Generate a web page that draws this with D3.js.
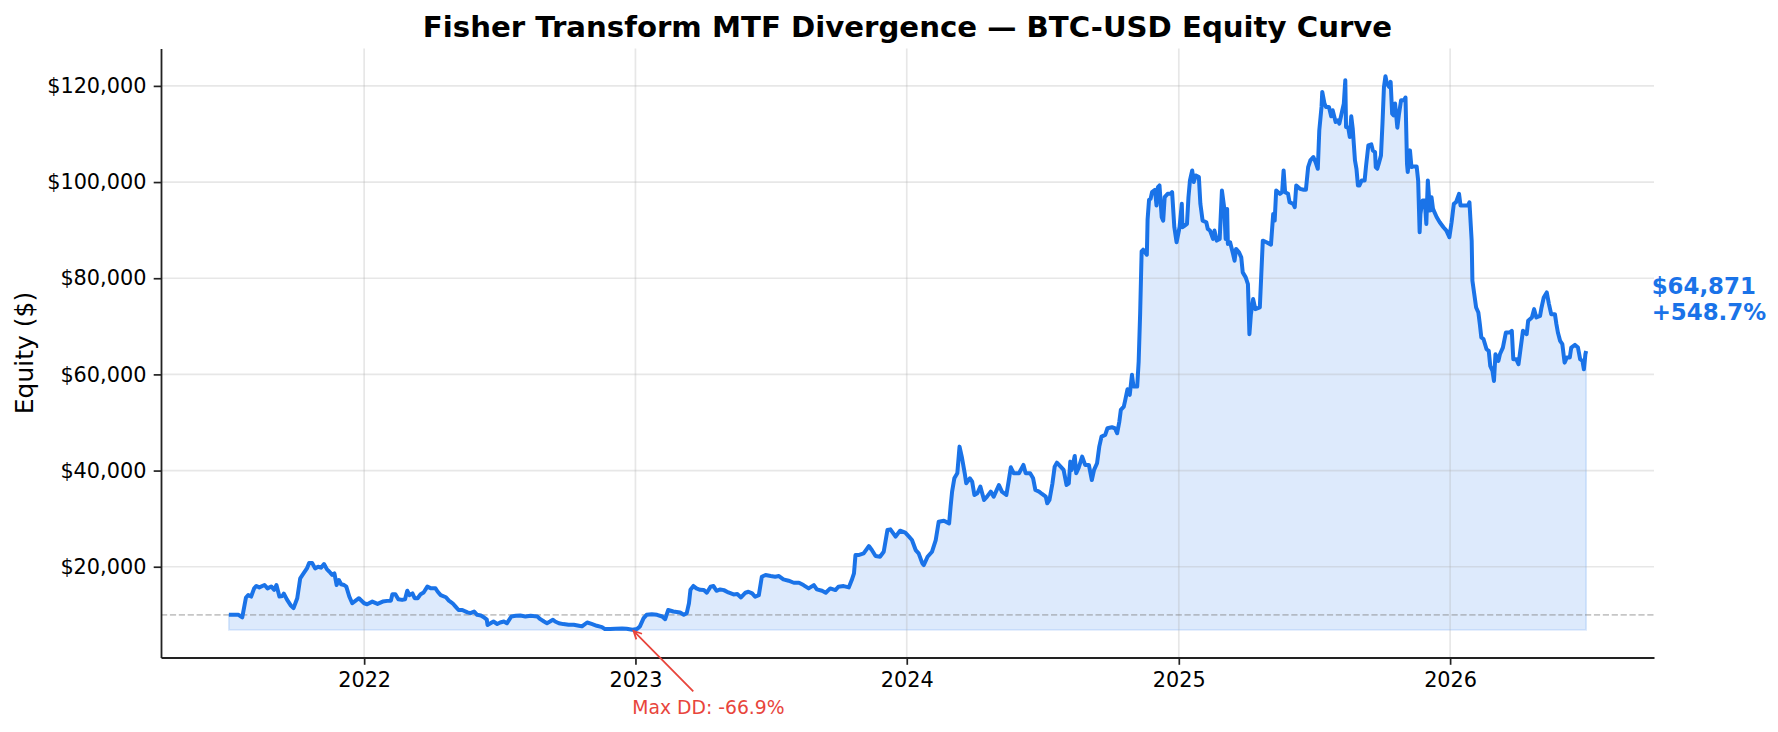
<!DOCTYPE html>
<html>
<head>
<meta charset="utf-8">
<title>Fisher Transform MTF Divergence — BTC-USD Equity Curve</title>
<script src="https://cdnjs.cloudflare.com/ajax/libs/d3/7.8.5/d3.min.js"></script>
<style>
  html, body { margin: 0; padding: 0; background: #fff; }
  svg { display: block; font-family: "DejaVu Sans", "Liberation Sans", sans-serif; }
</style>
</head>
<body>
<svg id="chart" width="1778" height="732"></svg>
<script>
'use strict';

// equity curve (date, account value in $)
var dates = [
  '2021-07-03','2021-07-16','2021-07-21','2021-07-26','2021-07-29','2021-08-02','2021-08-06','2021-08-09','2021-08-13','2021-08-20',
  '2021-08-24','2021-08-29','2021-09-02','2021-09-05','2021-09-09','2021-09-13','2021-09-15','2021-09-19','2021-09-24','2021-09-28',
  '2021-10-03','2021-10-07','2021-10-11','2021-10-16','2021-10-19','2021-10-23','2021-10-27','2021-10-31','2021-11-04','2021-11-08',
  '2021-11-12','2021-11-15','2021-11-19','2021-11-22','2021-11-25','2021-11-28','2021-12-01','2021-12-05','2021-12-08','2021-12-12',
  '2021-12-16','2021-12-21','2021-12-25',
  '2022-01-01','2022-01-05','2022-01-12','2022-01-19','2022-01-26','2022-02-01','2022-02-06','2022-02-08','2022-02-12','2022-02-16',
  '2022-02-21','2022-02-25','2022-02-28','2022-03-03','2022-03-07','2022-03-10','2022-03-14','2022-03-18','2022-03-22','2022-03-27',
  '2022-04-01','2022-04-07','2022-04-10','2022-04-14','2022-04-21','2022-04-25','2022-04-30','2022-05-04','2022-05-08','2022-05-13',
  '2022-05-20','2022-05-24','2022-05-29','2022-06-02','2022-06-07','2022-06-11','2022-06-15','2022-06-16','2022-06-20','2022-06-24',
  '2022-06-29','2022-07-03','2022-07-08','2022-07-12','2022-07-18','2022-07-24','2022-07-30','2022-08-06','2022-08-13','2022-08-22',
  '2022-08-26','2022-08-31','2022-09-04','2022-09-08','2022-09-12','2022-09-15','2022-09-20','2022-09-26','2022-10-03','2022-10-10',
  '2022-10-17','2022-10-21','2022-10-28','2022-11-03','2022-11-10','2022-11-17','2022-11-21','2022-11-28','2022-12-05','2022-12-14',
  '2022-12-20','2022-12-28',
  '2023-01-03','2023-01-07','2023-01-12','2023-01-16','2023-01-23','2023-01-30','2023-02-06','2023-02-10','2023-02-14','2023-02-21',
  '2023-03-02','2023-03-07','2023-03-11','2023-03-14','2023-03-16','2023-03-20','2023-03-24','2023-03-29','2023-04-03','2023-04-07',
  '2023-04-12','2023-04-16','2023-04-20','2023-04-25','2023-04-30','2023-05-06','2023-05-13','2023-05-18','2023-05-23','2023-05-29',
  '2023-06-02','2023-06-07','2023-06-11','2023-06-16','2023-06-20','2023-06-25','2023-07-02','2023-07-08','2023-07-13','2023-07-19',
  '2023-07-26','2023-08-02','2023-08-09','2023-08-15','2023-08-22','2023-08-29','2023-09-02','2023-09-09','2023-09-14','2023-09-20',
  '2023-09-27','2023-10-01','2023-10-08','2023-10-15','2023-10-19','2023-10-22','2023-10-24','2023-10-28','2023-11-04','2023-11-11',
  '2023-11-15','2023-11-20','2023-11-26','2023-12-01','2023-12-06','2023-12-10','2023-12-17','2023-12-23','2023-12-30',
  '2024-01-04','2024-01-08','2024-01-13','2024-01-17','2024-01-22','2024-01-24','2024-01-29','2024-02-04','2024-02-09','2024-02-13',
  '2024-02-20','2024-02-27','2024-02-29','2024-03-02','2024-03-05','2024-03-09','2024-03-12','2024-03-15','2024-03-19','2024-03-21',
  '2024-03-26','2024-03-29','2024-04-01','2024-04-05','2024-04-09','2024-04-14','2024-04-18','2024-04-23','2024-04-27','2024-05-04',
  '2024-05-08','2024-05-14','2024-05-17','2024-05-20','2024-05-24','2024-05-31','2024-06-06','2024-06-09','2024-06-15','2024-06-19',
  '2024-06-22','2024-06-27','2024-07-01','2024-07-06','2024-07-08','2024-07-11','2024-07-15','2024-07-18','2024-07-21','2024-07-26',
  '2024-07-30','2024-08-03','2024-08-06','2024-08-08','2024-08-10','2024-08-14','2024-08-16','2024-08-19','2024-08-24','2024-08-28',
  '2024-09-02','2024-09-06','2024-09-09','2024-09-13','2024-09-16','2024-09-19','2024-09-24','2024-09-27','2024-10-03','2024-10-07',
  '2024-10-10','2024-10-13','2024-10-15','2024-10-19','2024-10-21','2024-10-24','2024-10-27','2024-10-30','2024-11-01','2024-11-06',
  '2024-11-08','2024-11-10','2024-11-12','2024-11-14','2024-11-19','2024-11-20','2024-11-22','2024-11-24','2024-11-26','2024-11-30',
  '2024-12-02','2024-12-04','2024-12-06','2024-12-09','2024-12-11','2024-12-13','2024-12-17','2024-12-21','2024-12-23','2024-12-26',
  '2024-12-29',
  '2025-01-02','2025-01-05','2025-01-06','2025-01-09','2025-01-12','2025-01-14','2025-01-16','2025-01-19','2025-01-21','2025-01-24',
  '2025-01-28','2025-01-30','2025-02-02','2025-02-07','2025-02-09','2025-02-12','2025-02-16','2025-02-18','2025-02-21','2025-02-25',
  '2025-02-28','2025-03-03','2025-03-05','2025-03-07','2025-03-08','2025-03-11','2025-03-15','2025-03-17','2025-03-19','2025-03-23',
  '2025-03-26','2025-03-28','2025-04-01','2025-04-04','2025-04-06','2025-04-08','2025-04-11','2025-04-14','2025-04-20','2025-04-22',
  '2025-04-24','2025-04-29','2025-05-05','2025-05-08','2025-05-10','2025-05-12','2025-05-17','2025-05-20','2025-05-22','2025-05-24',
  '2025-05-28','2025-05-30','2025-06-04','2025-06-06','2025-06-08','2025-06-13','2025-06-18','2025-06-21','2025-06-24','2025-06-27',
  '2025-07-01','2025-07-04','2025-07-07','2025-07-09','2025-07-12','2025-07-13','2025-07-16','2025-07-18','2025-07-22','2025-07-25',
  '2025-07-27','2025-07-31','2025-08-03','2025-08-05','2025-08-09','2025-08-11','2025-08-13','2025-08-14','2025-08-17','2025-08-19',
  '2025-08-21','2025-08-23','2025-08-26','2025-08-28','2025-08-30','2025-09-01','2025-09-04','2025-09-08','2025-09-10','2025-09-13',
  '2025-09-17','2025-09-19','2025-09-22','2025-09-23','2025-09-25','2025-09-27','2025-09-30','2025-10-02','2025-10-04','2025-10-06',
  '2025-10-08','2025-10-11','2025-10-13','2025-10-15','2025-10-17','2025-10-19','2025-10-22','2025-10-24','2025-10-27','2025-10-31',
  '2025-11-02','2025-11-04','2025-11-05','2025-11-08','2025-11-10','2025-11-12','2025-11-17','2025-11-19','2025-11-21','2025-11-22',
  '2025-11-25','2025-11-28','2025-11-30','2025-12-02','2025-12-05','2025-12-07','2025-12-09','2025-12-14','2025-12-18','2025-12-23',
  '2025-12-27','2025-12-31',
  '2026-01-03','2026-01-06','2026-01-09','2026-01-13','2026-01-15','2026-01-21','2026-01-25','2026-01-27','2026-01-30','2026-01-31',
  '2026-02-05','2026-02-08','2026-02-10','2026-02-12','2026-02-15','2026-02-19','2026-02-22','2026-02-24','2026-02-27','2026-03-01',
  '2026-03-03','2026-03-07','2026-03-09','2026-03-13','2026-03-17','2026-03-22','2026-03-25','2026-03-27','2026-03-31','2026-04-03',
  '2026-04-06','2026-04-09','2026-04-14','2026-04-16','2026-04-21','2026-04-24','2026-04-27','2026-05-02','2026-05-04','2026-05-07',
  '2026-05-11','2026-05-14','2026-05-17','2026-05-22','2026-05-24','2026-05-26','2026-05-29','2026-06-01','2026-06-04','2026-06-07',
  '2026-06-11','2026-06-13','2026-06-18','2026-06-22','2026-06-25','2026-06-28','2026-06-30','2026-07-02','2026-07-03'
];

var equity = [
  10000,10000,9450,13600,14100,13800,15500,16000,15700,16200,
  15500,15900,15200,16200,13800,13900,14400,13200,12000,11400,
  13450,17600,18500,19650,20800,20800,19650,20000,19800,20550,
  19450,19000,18300,18600,16200,17250,16350,16200,15860,13800,
  12400,13000,13450,
  12400,12200,12750,12270,12750,12900,12950,14300,14300,13250,
  13100,13250,15000,14100,14450,13450,13450,14300,14650,15860,
  15500,15500,14800,14100,13650,12950,12400,11700,11000,11000,
  10500,10340,10690,10000,9860,9500,9000,7900,8240,8600,
  8100,8400,8600,8240,9650,9790,9860,9650,9790,9650,
  9100,8600,8250,8600,8970,8600,8250,8070,7930,7930,
  7720,7600,8400,8100,7720,7450,7030,7030,7100,7170,
  7100,6880,
  7030,7590,9310,10000,10140,10000,9650,9100,11000,10690,
  10480,10000,10340,12400,15200,16000,15500,15200,15140,14590,
  15840,15980,15000,15280,15140,14660,14240,14310,13610,14590,
  14800,14450,13750,14100,17920,18270,18060,17920,18060,17360,
  17090,16670,16670,16180,15490,16180,15280,15000,14590,15490,
  15140,15840,15980,15700,17220,18610,22430,22430,22780,24300,
  23470,22220,22080,23120,27630,27770,26250,27500,27080,
  26250,25550,23470,22780,20690,20350,22080,23120,25550,29370,
  29580,29020,32490,35620,38390,39430,44980,42900,39430,37350,
  38390,37700,34920,35270,36660,33880,34570,35620,34570,37000,
  35620,34920,37700,40680,39430,39430,41170,39430,39430,38390,
  35960,35620,35130,34570,33190,33880,37350,40820,41650,40820,
  40130,37000,37350,41860,40130,43040,39430,40470,42900,41170,
  41170,38040,40130,41510,44980,47070,47410,48800,49010,48800,
  47760,50190,52620,53310,54700,56920,55740,59910,57480,57480,
  62680,72740,85580,85930,84890,92180,96340,96510,97900,98390,
  95120,98940,99290,92690,91990,96860,97550,97550,97900,90600,
  87480,
  90600,95470,90600,90950,91300,96860,100330,102420,99990,101370,
  101030,95470,91990,91640,90250,89910,88170,89910,87820,88170,
  98250,94770,88170,94420,87130,87480,85040,83650,86090,85390,
  84350,81220,80180,78790,68360,72530,75660,73570,73920,80870,
  87820,87480,86990,93380,91990,98250,97550,97900,102420,97900,
  97550,95810,95470,94770,99290,98590,98390,98390,103110,104500,
  105200,104150,102760,110760,115620,118750,116320,115620,115620,113680,
  114930,112490,112840,112150,114930,116320,121180,111450,111310,109370,
  113680,111100,104500,102760,99290,99290,100330,100330,103460,107630,
  107840,106590,106240,103110,102760,103810,105550,112150,119790,122020,
  120490,119790,120830,114230,113880,116320,111310,113880,117010,117010,
  117570,103810,102070,106590,103110,103250,103250,100330,89560,93380,
  96160,96160,91300,100330,94080,96860,94420,92690,91640,90600,
  89910,88520,
  91640,95470,95810,97550,95120,95120,95120,95810,87820,79480,
  73920,72880,70450,67670,67320,65230,64880,61760,60720,58630,
  64190,62800,64190,65580,68710,68710,69060,63150,63150,62110,
  65580,69060,68360,71140,71840,73570,71840,72180,73920,76010,
  77050,74620,72530,72530,70450,68710,66970,66280,62450,63500,
  63500,65580,66140,65580,63150,62800,61060,64200,64871
];

var startingEquity = 10000;
var yTickValues = [20000, 40000, 60000, 80000, 100000, 120000];
var xTickYears = [2022, 2023, 2024, 2025, 2026];

var titleText = 'Fisher Transform MTF Divergence — BTC-USD Equity Curve';
var yLabelText = 'Equity ($)';
var drawdownText = 'Max DD: -66.9%';
var finalValueText = '$64,871';
var finalReturnText = '+548.7%';

var lineColor = '#1a73e8';
var ddColor = '#e8453c';

if (dates.length !== equity.length) {
  console.log('dates / equity length mismatch', dates.length, equity.length);
}

var width = 1778,
    height = 732,
    margin = {top: 48.5, right: 124, bottom: 74.5, left: 161};

var parseDate = d3.timeParse('%Y-%m-%d');
var data = dates.map(function(d, i) {
  return {date: parseDate(d), value: equity[i]};
});

// matplotlib style 5% padding around the data
var xExtent = d3.extent(data, function(d) { return d.date; });
var xSpan = xExtent[1] - xExtent[0];
var x = d3.scaleTime()
    .domain([new Date(+xExtent[0] - xSpan * 0.05), new Date(+xExtent[1] + xSpan * 0.05)])
    .range([margin.left, width - margin.right]);

var minEq = d3.min(equity),
    maxEq = d3.max(equity),
    yPad = (maxEq - minEq) * 0.05;
var y = d3.scaleLinear()
    .domain([minEq - yPad, maxEq + yPad])
    .range([height - margin.bottom, margin.top]);

var svg = d3.select('#chart');

// fill down to the lowest equity
var area = d3.area()
    .x(function(d) { return x(d.date); })
    .y0(y(minEq))
    .y1(function(d) { return y(d.value); });

svg.append('path')
  .datum(data)
  .attr('d', area)
  .attr('fill', lineColor)
  .attr('fill-opacity', 0.15)
  .attr('stroke', lineColor)
  .attr('stroke-opacity', 0.15)
  .attr('stroke-width', 1.7);

// grid
var grid = svg.append('g').attr('class', 'grid');
grid.selectAll('line.gy')
  .data(yTickValues)
  .enter().append('line')
  .attr('x1', margin.left).attr('x2', width - margin.right)
  .attr('y1', function(d) { return y(d); }).attr('y2', function(d) { return y(d); });
grid.selectAll('line.gx')
  .data(xTickYears)
  .enter().append('line')
  .attr('y1', margin.top).attr('y2', height - margin.bottom)
  .attr('x1', function(d) { return x(new Date(d, 0, 1)); })
  .attr('x2', function(d) { return x(new Date(d, 0, 1)); });
grid.selectAll('line')
  .attr('stroke', '#b0b0b0')
  .attr('stroke-opacity', 0.3)
  .attr('stroke-width', 1.7);

// starting capital reference
svg.append('line')
  .attr('x1', margin.left).attr('x2', width - margin.right)
  .attr('y1', y(startingEquity)).attr('y2', y(startingEquity))
  .attr('stroke', '#808080')
  .attr('stroke-opacity', 0.45)
  .attr('stroke-width', 1.7)
  .attr('stroke-dasharray', '6.2,2.7');

var line = d3.line()
    .x(function(d) { return x(d.date); })
    .y(function(d) { return y(d.value); });

svg.append('path')
  .datum(data)
  .attr('d', line)
  .attr('fill', 'none')
  .attr('stroke', lineColor)
  .attr('stroke-width', 4)
  .attr('stroke-linejoin', 'round');

// axes
var yAxis = d3.axisLeft(y)
    .tickValues(yTickValues)
    .tickFormat(d3.format('$,.0f'))
    .tickSizeInner(7.3)
    .tickSizeOuter(0)
    .tickPadding(7.3);

var xAxis = d3.axisBottom(x)
    .tickValues(xTickYears.map(function(yr) { return new Date(yr, 0, 1); }))
    .tickFormat(d3.timeFormat('%Y'))
    .tickSizeInner(7.3)
    .tickSizeOuter(0)
    .tickPadding(7.3);

var gy = svg.append('g')
  .attr('transform', 'translate(' + margin.left + ',0)')
  .call(yAxis);
var gx = svg.append('g')
  .attr('transform', 'translate(0,' + (height - margin.bottom) + ')')
  .call(xAxis);

[gx, gy].forEach(function(g) {
  g.select('.domain').attr('stroke', '#222').attr('stroke-width', 1.8);
  g.selectAll('.tick line').attr('stroke', '#222').attr('stroke-width', 1.7);
  g.selectAll('.tick text')
    .attr('fill', '#000')
    .style('font-family', '"DejaVu Sans", sans-serif')
    .style('font-size', '20.8px');
});

// title + axis label
svg.append('text')
  .attr('x', (margin.left + width - margin.right) / 2)
  .attr('y', 36.5)
  .attr('text-anchor', 'middle')
  .style('font-size', '29.2px')
  .style('font-weight', 'bold')
  .attr('fill', '#000')
  .text(titleText);

svg.append('text')
  .attr('transform', 'translate(33,' + ((margin.top + height - margin.bottom) / 2) + ') rotate(-90)')
  .attr('text-anchor', 'middle')
  .style('font-size', '25px')
  .attr('fill', '#000')
  .text(yLabelText);

// max drawdown point, found from the curve itself
var peak = -Infinity, worst = 0, ddIndex = 0;
equity.forEach(function(v, i) {
  peak = Math.max(peak, v);
  var dd = v / peak - 1;
  if (dd < worst) { worst = dd; ddIndex = i; }
});

var tip = {x: x(data[ddIndex].date), y: y(data[ddIndex].value)};
var textCenter = {x: tip.x + 76, y: tip.y + 77};

svg.append('text')
  .attr('x', textCenter.x)
  .attr('y', textCenter.y + 6.7)
  .attr('text-anchor', 'middle')
  .style('font-size', '18.75px')
  .attr('fill', ddColor)
  .text(drawdownText);

var dx = tip.x - textCenter.x,
    dy = tip.y - textCenter.y,
    len = Math.sqrt(dx * dx + dy * dy),
    ux = dx / len, uy = dy / len;
var tail = {x: textCenter.x + dx * 0.2, y: textCenter.y + dy * 0.2};
var head = {x: tip.x - ux * 1.5, y: tip.y - uy * 1.5};
var hl = 8, hw = 4;

svg.append('path')
  .attr('d', 'M' + tail.x + ',' + tail.y + 'L' + head.x + ',' + head.y +
    'M' + (head.x - ux * hl - uy * hw) + ',' + (head.y - uy * hl + ux * hw) +
    'L' + head.x + ',' + head.y +
    'L' + (head.x - ux * hl + uy * hw) + ',' + (head.y - uy * hl - ux * hw))
  .attr('fill', 'none')
  .attr('stroke', ddColor)
  .attr('stroke-width', 1.8);

// final value label
var last = data[data.length - 1];
var endLabel = svg.append('text')
  .attr('x', x(last.date) + 65.5)
  .attr('y', y(last.value) - 56.7)
  .style('font-size', '22.9px')
  .style('font-weight', 'bold')
  .attr('fill', lineColor);
endLabel.append('tspan').text(finalValueText);
endLabel.append('tspan')
  .attr('x', x(last.date) + 65.5)
  .attr('dy', 25.7)
  .text(finalReturnText);
</script>
</body>
</html>
